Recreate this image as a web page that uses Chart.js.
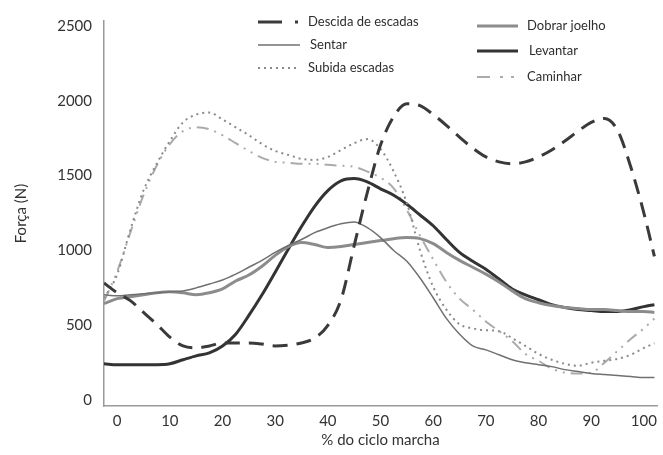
<!DOCTYPE html>
<html>
<head>
<meta charset="utf-8">
<script src="https://cdn.jsdelivr.net/npm/chart.js@4.4.1/dist/chart.umd.min.js"></script>
<style>
  html, body { margin: 0; padding: 0; background: #fff; }
  #wrap { width: 663px; height: 455px; }
</style>
</head>
<body>
<div id="wrap"><canvas id="forceChart" width="663" height="455"></canvas></div>
<script>
// % do ciclo de marcha
const cycle = [-2.5, 0, 2.5, 5, 7.5, 10, 12.5, 15, 17.5, 20, 22.5, 25, 27.5, 30, 32.5, 35, 37.5, 40, 42.5, 45, 47.5,
  50, 52.5, 55, 57.5, 60, 62.5, 65, 67.5, 70, 72.5, 75, 77.5, 80, 82.5, 85, 87.5, 90, 92.5, 95, 97.5, 100, 102];

const descida = [783, 717, 665, 586, 507, 421, 362, 349, 362, 382, 382, 382, 375, 362, 368, 382, 415, 500, 671, 1033, 1388,
  1704, 1895, 1980, 1967, 1908, 1836, 1757, 1684, 1625, 1592, 1579, 1592, 1625, 1671, 1731, 1797, 1856, 1882, 1803, 1559, 1250, 960];
const sentar = [704, 697, 704, 711, 717, 724, 730, 750, 776, 803, 842, 888, 934, 987, 1033, 1073, 1119, 1152, 1178, 1191, 1152,
  1086, 1000, 928, 816, 684, 546, 441, 362, 336, 303, 270, 250, 237, 224, 204, 191, 178, 171, 165, 158, 151, 151];
const subida = [680, 840, 1138, 1401, 1579, 1731, 1856, 1908, 1921, 1875, 1823, 1770, 1711, 1665, 1638, 1612, 1605, 1625, 1671, 1717, 1744,
  1678, 1527, 1316, 1000, 757, 605, 507, 480, 467, 461, 415, 362, 309, 270, 243, 230, 250, 263, 276, 303, 349, 380];
const dobrar = [645, 678, 691, 704, 717, 724, 717, 704, 717, 743, 796, 836, 895, 967, 1026, 1053, 1040, 1020, 1026, 1040, 1053,
  1066, 1079, 1086, 1079, 1046, 987, 934, 888, 842, 790, 730, 678, 651, 632, 619, 612, 605, 605, 599, 592, 592, 586];
const levantar = [243, 237, 237, 237, 237, 243, 270, 296, 316, 362, 441, 566, 704, 855, 1010, 1160, 1295, 1400, 1465, 1480, 1458,
  1412, 1369, 1309, 1237, 1165, 1073, 987, 928, 875, 809, 743, 704, 671, 638, 619, 605, 599, 592, 592, 605, 625, 638];
const caminhar = [660, 860, 1119, 1369, 1566, 1711, 1797, 1823, 1810, 1770, 1717, 1665, 1619, 1592, 1586, 1579, 1579, 1573, 1566, 1559, 1527,
  1487, 1415, 1270, 1099, 941, 790, 678, 605, 526, 461, 395, 309, 263, 211, 184, 178, 184, 250, 329, 408, 480, 545];

const xTicks = [0, 10, 20, 30, 40, 50, 60, 70, 80, 90, 100];
const yTicks = [0, 500, 1000, 1500, 2000, 2500];

const FONT = 'Lato, "DejaVu Sans", sans-serif';

function pts(values) {
  return values.map((v, i) => ({ x: cycle[i], y: v }));
}

const series = [
  { label: 'Descida de escadas', data: descida, color: '#3a3a3a', width: 3, dash: [15, 9] },
  { label: 'Sentar', data: sentar, color: '#707070', width: 1.5, dash: [] },
  { label: 'Subida escadas', data: subida, color: '#8a8a8a', width: 2, dash: [2, 4] },
  { label: 'Dobrar joelho', data: dobrar, color: '#8c8c8c', width: 3, dash: [] },
  { label: 'Levantar', data: levantar, color: '#333333', width: 3, dash: [] },
  { label: 'Caminhar', data: caminhar, color: '#ababab', width: 2, dash: [12, 6, 2, 6, 2, 6] },
];

// legend laid out in two columns inside the plot, like the original figure
const legendSpots = [
  { x1: 258, x2: 300, tx: 308, y: 22, sample: [24, 13, 3, 99] },
  { x1: 258, x2: 300, tx: 310, y: 45 },
  { x1: 258, x2: 300, tx: 308, y: 68 },
  { x1: 477, x2: 518, tx: 527, y: 26 },
  { x1: 477, x2: 518, tx: 529, y: 51 },
  { x1: 477, x2: 518, tx: 527, y: 77, sample: [13, 10, 3, 8, 3, 99] },
];

const legendPlugin = {
  id: 'twoColLegend',
  afterDraw(chart) {
    const ctx = chart.ctx;
    ctx.save();
    chart.data.datasets.forEach((ds, i) => {
      const s = legendSpots[i];
      ctx.beginPath();
      ctx.setLineDash(s.sample || ds.borderDash || []);
      ctx.lineWidth = ds.borderWidth;
      ctx.strokeStyle = ds.borderColor;
      ctx.moveTo(s.x1, s.y);
      ctx.lineTo(s.x2, s.y);
      ctx.stroke();
      ctx.setLineDash([]);
      ctx.fillStyle = '#2e2e2e';
      ctx.font = '13px ' + FONT;
      ctx.textBaseline = 'middle';
      ctx.textAlign = 'left';
      ctx.fillText(ds.label, s.tx, s.y);
    });
    ctx.restore();
  }
};

const bgPlugin = {
  id: 'whiteBg',
  beforeDraw(chart) {
    const ctx = chart.ctx;
    ctx.save();
    ctx.fillStyle = '#fff';
    ctx.fillRect(0, 0, chart.width, chart.height);
    ctx.restore();
  }
};

window.addEventListener('DOMContentLoaded', () => {
  const ctx = document.getElementById('forceChart').getContext('2d');
  new Chart(ctx, {
    type: 'line',
    data: {
      datasets: series.map(s => ({
        label: s.label,
        data: pts(s.data),
        borderColor: s.color,
        borderWidth: s.width,
        borderDash: s.dash,
        pointRadius: 0,
        fill: false,
        cubicInterpolationMode: 'monotone',
      }))
    },
    options: {
      responsive: false,
      animation: false,
      events: [],
      layout: { padding: { left: 0, right: 3, top: 15, bottom: 0 } },
      plugins: { legend: { display: false }, tooltip: { enabled: false } },
      scales: {
        x: {
          type: 'linear',
          min: -2.5,
          max: 102.5,
          afterBuildTicks: (axis) => { axis.ticks = xTicks.map(v => ({ value: v })); },
          afterFit: (axis) => { axis.height = 49; },
          grid: { display: false, drawTicks: false },
          border: { display: true, color: '#9a9a9a', width: 1.5 },
          ticks: { color: '#333', font: { family: FONT, size: 15 }, padding: 6, maxRotation: 0, autoSkip: false,
            callback: (v) => String(v) },
          title: { display: true, text: '% do ciclo marcha', color: '#333', font: { family: FONT, size: 15 }, padding: { top: 0, bottom: 6 } }
        },
        y: {
          min: -39,
          max: 2533,
          afterBuildTicks: (axis) => { axis.ticks = yTicks.map(v => ({ value: v })); },
          afterFit: (axis) => { axis.width = 104; },
          grid: { display: false, drawTicks: false },
          border: { display: true, color: '#9a9a9a', width: 1.5 },
          ticks: { color: '#333', font: { family: FONT, size: 15 }, padding: 12, callback: (v) => String(v) },
          title: { display: true, text: 'Força (N)', color: '#333', font: { family: FONT, size: 15 }, padding: { top: 12, bottom: 0 } }
        }
      }
    },
    plugins: [bgPlugin, legendPlugin]
  });
});
</script>
</body>
</html>
